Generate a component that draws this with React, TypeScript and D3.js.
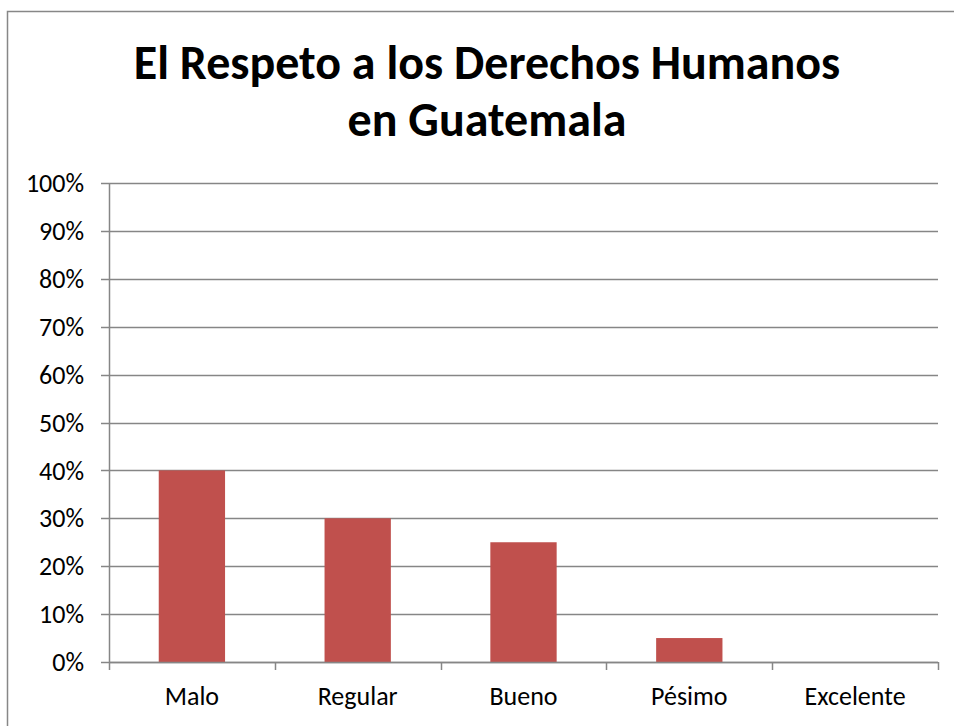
import React, { useEffect, useRef } from 'react';
import * as d3 from 'd3';

const categories = ['Malo', 'Regular', 'Bueno', 'Pésimo', 'Excelente'];
const values = [0.4, 0.3, 0.25, 0.05, 0];
const yTicks = [0, 0.1, 0.2, 0.3, 0.4, 0.5, 0.6, 0.7, 0.8, 0.9, 1];
const titleLines = ['El Respeto a los Derechos Humanos', 'en Guatemala'];

const W = 954;
const H = 726;
const FONT = "Carlito, Calibri, 'Open Sans', sans-serif";

const App = () => {
  const svgRef = useRef<SVGSVGElement>(null);

  useEffect(() => {
    const svg = d3.select(svgRef.current);
    svg.selectAll('*').remove();

    const margin = { top: 183, right: 16, bottom: 64, left: 109 };

    // outer chart frame, runs off the right/bottom edge
    svg.append('rect')
      .attr('x', 7.5).attr('y', 11.5)
      .attr('width', W + 20).attr('height', H + 20)
      .attr('fill', 'white').attr('stroke', '#878787').attr('stroke-width', 1.5);

    const x = d3.scaleBand()
      .domain(categories)
      .range([margin.left, W - margin.right])
      .paddingInner(0.6)
      .paddingOuter(0.3);

    const y = d3.scaleLinear()
      .domain([0, 1])
      .range([H - margin.bottom, margin.top]);

    // gridlines
    svg.append('g')
      .selectAll('line')
      .data(yTicks)
      .enter()
      .append('line')
      .attr('x1', margin.left - 8)
      .attr('x2', W - margin.right)
      .attr('y1', d => Math.round(y(d)) + 0.5)
      .attr('y2', d => Math.round(y(d)) + 0.5)
      .attr('stroke', '#868686')
      .attr('stroke-width', 1.5);

    // y labels
    svg.append('g')
      .selectAll('text')
      .data(yTicks)
      .enter()
      .append('text')
      .attr('x', margin.left - 25)
      .attr('y', d => y(d))
      .attr('dy', '0.35em')
      .attr('text-anchor', 'end')
      .attr('font-family', FONT)
      .attr('font-size', 26)
      .attr('fill', '#000')
      .text(d => d3.format('.0%')(d));

    // y axis line
    svg.append('line')
      .attr('x1', margin.left + 0.5).attr('x2', margin.left + 0.5)
      .attr('y1', margin.top).attr('y2', H - margin.bottom)
      .attr('stroke', '#868686').attr('stroke-width', 1.5);

    // bars
    svg.append('g')
      .selectAll('rect')
      .data(values)
      .enter()
      .append('rect')
      .attr('x', (d, i) => x(categories[i])!)
      .attr('y', d => y(d))
      .attr('width', x.bandwidth())
      .attr('height', d => y(0) - y(d))
      .attr('fill', '#C0504D');

    // x axis
    const x0 = H - margin.bottom;
    svg.append('line')
      .attr('x1', margin.left).attr('x2', W - margin.right)
      .attr('y1', Math.round(x0) + 0.5).attr('y2', Math.round(x0) + 0.5)
      .attr('stroke', '#868686').attr('stroke-width', 1.5);

    const step = x.step();
    const boundaries = d3.range(categories.length + 1).map(i => margin.left + i * step);
    svg.append('g')
      .selectAll('line')
      .data(boundaries)
      .enter()
      .append('line')
      .attr('x1', d => Math.round(d) + 0.5)
      .attr('x2', d => Math.round(d) + 0.5)
      .attr('y1', x0)
      .attr('y2', x0 + 8)
      .attr('stroke', '#868686')
      .attr('stroke-width', 1.5);

    svg.append('g')
      .selectAll('text')
      .data(categories)
      .enter()
      .append('text')
      .attr('x', d => x(d)! + x.bandwidth() / 2)
      .attr('y', 705)
      .attr('text-anchor', 'middle')
      .attr('font-family', FONT)
      .attr('font-size', 26)
      .attr('fill', '#000')
      .text(d => d);

    // title
    svg.append('g')
      .selectAll('text')
      .data(titleLines)
      .enter()
      .append('text')
      .attr('x', 487)
      .attr('y', (d, i) => 79 + i * 57)
      .attr('text-anchor', 'middle')
      .attr('font-family', FONT)
      .attr('font-size', 48)
      .attr('font-weight', 'bold')
      .attr('fill', '#000')
      .text(d => d);
  }, []);

  return (
    <svg ref={svgRef} width={W} height={H}
      style={{ position: 'absolute', left: 0, top: 0, background: 'white' }} />
  );
};

export default App;
